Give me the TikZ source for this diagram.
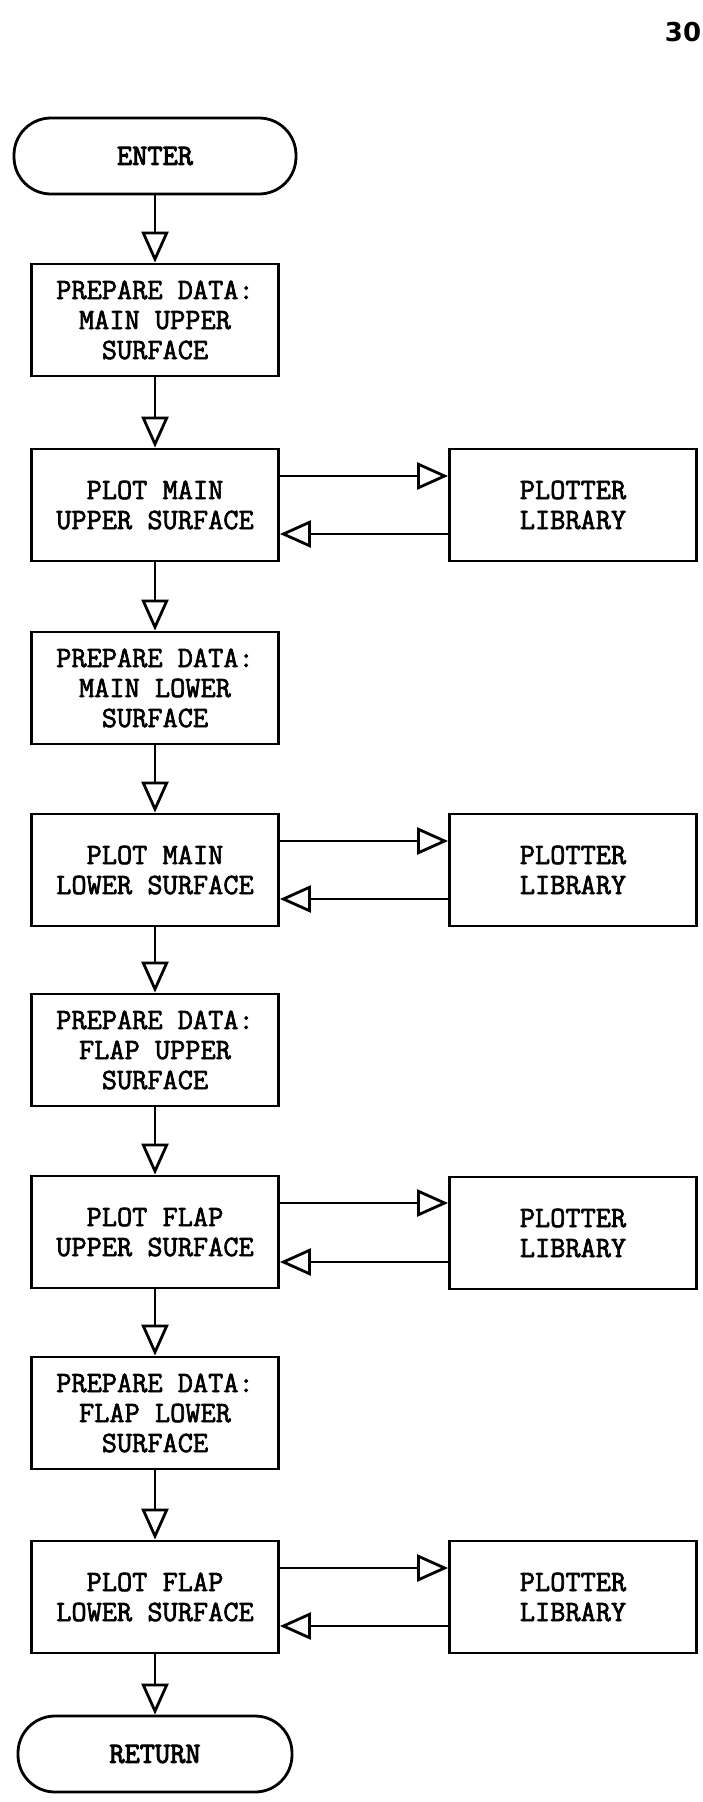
\documentclass[tikz,border=0pt]{standalone}
\usepackage{fontspec}
\newfontfamily\pagenum{DejaVu Sans}
\newfontfamily\tw{Latin Modern Mono}[AutoFakeBold=2.2]
\newfontfamily\twb{Latin Modern Mono}[AutoFakeBold=3.2]
\usetikzlibrary{arrows.meta,calc}
\begin{document}
\begin{tikzpicture}[x=1pt,y=-1pt,
  every node/.style={font=\tw\bfseries\fontsize{29.5}{30}\selectfont, align=center, inner sep=0pt},
  procbox/.style={draw, line width=2.8pt, minimum width=247pt, minimum height=112pt},
  termbox/.style={draw, line width=2.8pt, rounded corners=37pt, minimum height=76pt, font=\twb\bfseries\fontsize{29.5}{30}\selectfont},
  flow/.style={line width=2.8pt, -{Triangle[open, length=31pt, width=27pt, line width=2.8pt]}}]
\useasboundingbox (0,0) rectangle (703,1802);
\node[font=\pagenum\bfseries\fontsize{26}{28}\selectfont] (pg) at (683,32) {30};
\node[termbox, minimum width=282pt] (enter) at (155,156) {ENTER};
\node[procbox] (b1) at (155,320) {PREPARE DATA:\\MAIN UPPER\\SURFACE};
\node[procbox] (b2) at (155,505) {PLOT MAIN\\UPPER SURFACE};
\node[procbox] (b3) at (155,688) {PREPARE DATA:\\MAIN LOWER\\SURFACE};
\node[procbox] (b4) at (155,870) {PLOT MAIN\\LOWER SURFACE};
\node[procbox] (b5) at (155,1050) {PREPARE DATA:\\FLAP UPPER\\SURFACE};
\node[procbox] (b6) at (155,1232) {PLOT FLAP\\UPPER SURFACE};
\node[procbox] (b7) at (155,1413) {PREPARE DATA:\\FLAP LOWER\\SURFACE};
\node[procbox] (b8) at (155,1597) {PLOT FLAP\\LOWER SURFACE};
\node[termbox, minimum width=274pt] (ret) at (155,1754) {RETURN};
\node[procbox] (p1) at (573,505) {PLOTTER\\LIBRARY};
\node[procbox] (p2) at (573,870) {PLOTTER\\LIBRARY};
\node[procbox] (p3) at (573,1233) {PLOTTER\\LIBRARY};
\node[procbox] (p4) at (573,1597) {PLOTTER\\LIBRARY};
\draw[flow] (enter) -- (b1);
\draw[flow] (b1) -- (b2);
\draw[flow] (b2) -- (b3);
\draw[flow] (b3) -- (b4);
\draw[flow] (b4) -- (b5);
\draw[flow] (b5) -- (b6);
\draw[flow] (b6) -- (b7);
\draw[flow] (b7) -- (b8);
\draw[flow] (b8) -- (ret);
\foreach \b/\p in {b2/p1,b4/p2,b6/p3,b8/p4}{
  \coordinate (\b r) at ($(\b.east)+(0,-29)$);
  \coordinate (\b l) at ($(\p.west)+(0,29)$);
  \draw[flow] (\b r) -- (\b r -| \p.west);
  \draw[flow] (\b l) -- (\b l -| \b.east);
}
\end{tikzpicture}
\end{document}
